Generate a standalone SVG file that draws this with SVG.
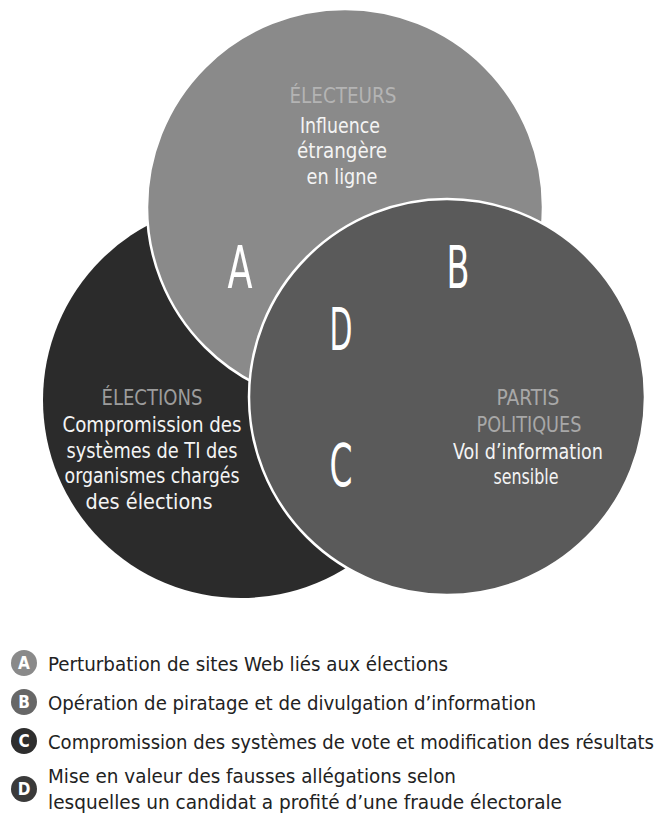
<svg xmlns="http://www.w3.org/2000/svg" width="667" height="823" viewBox="0 0 667 823">
  <style>
    .t { font-family: "DejaVu Sans Condensed", "DejaVu Sans", sans-serif; font-stretch: condensed; }
    .body { font-size: 22px; fill: #f4f4f4; text-anchor: middle; }
    .head { font-size: 21px; text-anchor: middle; }
    .big { font-size: 58px; fill: #ffffff; text-anchor: middle; font-weight: 300; }
    .leg { font-size: 20px; fill: #222222; }
    .ico { font-size: 17px; fill: #ffffff; text-anchor: middle; font-weight: bold; }
    .ring { stroke: #ffffff; stroke-width: 2.5; }
  </style>

  <!-- Elections circle (bottom layer) -->
  <g id="elections">
    <circle cx="241" cy="400" r="198" fill="#2b2b2b"/>
  </g>

  <!-- Voters circle -->
  <g id="electeurs">
    <circle class="ring" cx="345" cy="207" r="198" fill="#8a8a8a"/>
  </g>

  <!-- Political parties circle (top layer) -->
  <g id="partis">
    <circle class="ring" cx="447" cy="397" r="198" fill="#5a5a5a"/>
  </g>

  <!-- Circle labels -->
  <g id="label-electeurs" class="t">
    <text class="head" x="343" y="103" fill="#b4b4b4" textLength="107" lengthAdjust="spacingAndGlyphs">ÉLECTEURS</text>
    <text class="body" x="340" y="133" textLength="80" lengthAdjust="spacingAndGlyphs">Influence</text>
    <text class="body" x="342" y="158" textLength="90" lengthAdjust="spacingAndGlyphs">étrangère</text>
    <text class="body" x="342" y="184" textLength="71" lengthAdjust="spacingAndGlyphs">en ligne</text>
  </g>

  <g id="label-elections" class="t">
    <text class="head" x="152" y="405" fill="#9c9c9c" textLength="101" lengthAdjust="spacingAndGlyphs">ÉLECTIONS</text>
    <text class="body" x="152" y="432" textLength="179" lengthAdjust="spacingAndGlyphs">Compromission des</text>
    <text class="body" x="152" y="458" textLength="171" lengthAdjust="spacingAndGlyphs">systèmes de TI des</text>
    <text class="body" x="152" y="483" textLength="175" lengthAdjust="spacingAndGlyphs">organismes chargés</text>
    <text class="body" x="149" y="509" textLength="127" lengthAdjust="spacingAndGlyphs">des élections</text>
  </g>

  <g id="label-partis" class="t">
    <text class="head" x="528" y="405" fill="#a8a8a8" textLength="63" lengthAdjust="spacingAndGlyphs">PARTIS</text>
    <text class="head" x="529" y="432" fill="#a8a8a8" textLength="105" lengthAdjust="spacingAndGlyphs">POLITIQUES</text>
    <text class="body" x="528" y="459" textLength="150" lengthAdjust="spacingAndGlyphs">Vol d’information</text>
    <text class="body" x="526" y="484" textLength="65" lengthAdjust="spacingAndGlyphs">sensible</text>
  </g>

  <!-- Overlap letters -->
  <g id="zone-a" class="t"><text class="big" x="240" y="288" textLength="25" lengthAdjust="spacingAndGlyphs">A</text></g>
  <g id="zone-b" class="t"><text class="big" x="458" y="288" textLength="23" lengthAdjust="spacingAndGlyphs">B</text></g>
  <g id="zone-d" class="t"><text class="big" x="341" y="350" textLength="23" lengthAdjust="spacingAndGlyphs">D</text></g>
  <g id="zone-c" class="t"><text class="big" x="341" y="486" textLength="23" lengthAdjust="spacingAndGlyphs">C</text></g>

  <!-- Legend -->
  <g id="legend-a" class="t">
    <circle cx="24" cy="663" r="13" fill="#8a8a8a"/>
    <text class="ico" x="24" y="669">A</text>
    <text class="leg" x="48" y="671" textLength="400" lengthAdjust="spacingAndGlyphs">Perturbation de sites Web liés aux élections</text>
  </g>
  <g id="legend-b" class="t">
    <circle cx="24" cy="702" r="13" fill="#676767"/>
    <text class="ico" x="24" y="708">B</text>
    <text class="leg" x="48" y="710" textLength="488" lengthAdjust="spacingAndGlyphs">Opération de piratage et de divulgation d’information</text>
  </g>
  <g id="legend-c" class="t">
    <circle cx="24" cy="741" r="13" fill="#2e2e2e"/>
    <text class="ico" x="24" y="747">C</text>
    <text class="leg" x="48" y="749" textLength="606" lengthAdjust="spacingAndGlyphs">Compromission des systèmes de vote et modification des résultats</text>
  </g>
  <g id="legend-d" class="t">
    <circle cx="24" cy="789" r="13" fill="#3a3a3a"/>
    <text class="ico" x="24" y="795">D</text>
    <text class="leg" x="48" y="783" textLength="408" lengthAdjust="spacingAndGlyphs">Mise en valeur des fausses allégations selon</text>
    <text class="leg" x="48" y="809" textLength="514" lengthAdjust="spacingAndGlyphs">lesquelles un candidat a profité d’une fraude électorale</text>
  </g>
</svg>
